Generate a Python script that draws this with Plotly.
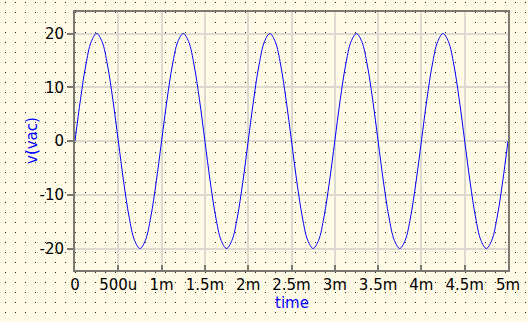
import base64
import plotly.graph_objects as go

# time in milliseconds, sampled every 62.5 us
time_ms = [0, 0.0625, 0.125, 0.1875, 0.25, 0.3125, 0.375, 0.4375,
           0.5, 0.5625, 0.625, 0.6875, 0.75, 0.8125, 0.875, 0.9375,
           1.0, 1.0625, 1.125, 1.1875, 1.25, 1.3125, 1.375, 1.4375,
           1.5, 1.5625, 1.625, 1.6875, 1.75, 1.8125, 1.875, 1.9375,
           2.0, 2.0625, 2.125, 2.1875, 2.25, 2.3125, 2.375, 2.4375,
           2.5, 2.5625, 2.625, 2.6875, 2.75, 2.8125, 2.875, 2.9375,
           3.0, 3.0625, 3.125, 3.1875, 3.25, 3.3125, 3.375, 3.4375,
           3.5, 3.5625, 3.625, 3.6875, 3.75, 3.8125, 3.875, 3.9375,
           4.0, 4.0625, 4.125, 4.1875, 4.25, 4.3125, 4.375, 4.4375,
           4.5, 4.5625, 4.625, 4.6875, 4.75, 4.8125, 4.875, 4.9375,
           5.0]
v_vac = [0, 7.65, 14.14, 18.48, 20, 18.48, 14.14, 7.65,
         0, -7.65, -14.14, -18.48, -20, -18.48, -14.14, -7.65,
         0, 7.65, 14.14, 18.48, 20, 18.48, 14.14, 7.65,
         0, -7.65, -14.14, -18.48, -20, -18.48, -14.14, -7.65,
         0, 7.65, 14.14, 18.48, 20, 18.48, 14.14, 7.65,
         0, -7.65, -14.14, -18.48, -20, -18.48, -14.14, -7.65,
         0, 7.65, 14.14, 18.48, 20, 18.48, 14.14, 7.65,
         0, -7.65, -14.14, -18.48, -20, -18.48, -14.14, -7.65,
         0, 7.65, 14.14, 18.48, 20, 18.48, 14.14, 7.65,
         0, -7.65, -14.14, -18.48, -20, -18.48, -14.14, -7.65,
         0]

x_tickvals = [0, 0.5, 1, 1.5, 2, 2.5, 3, 3.5, 4, 4.5, 5]
x_ticktext = ["0", "500u", "1m", "1.5m", "2m", "2.5m", "3m", "3.5m", "4m", "4.5m", "5m"]
y_tickvals = [-20, -10, 0, 10, 20]
y_ticktext = ["-20", "-10", "0", "10", "20"]

W, H = 528, 322
BG = "#fffae6"
FRAME = "#7a7a72"
GRID = "#dcdad0"
FONT = "DejaVu Sans"

svg = (
    f'<svg xmlns="http://www.w3.org/2000/svg" width="{W}" height="{H}" shape-rendering="crispEdges">'
    '<defs><pattern id="p" width="10" height="10" patternUnits="userSpaceOnUse">'
    '<rect x="5" y="2" width="1" height="1" fill="#222"/></pattern></defs>'
    f'<rect width="{W}" height="{H}" fill="url(#p)"/></svg>'
)
dots_uri = "data:image/svg+xml;base64," + base64.b64encode(svg.encode()).decode()

x0, x1 = 75, 508
y0, y1 = 12, 270

fig = go.Figure()
fig.add_trace(go.Scatter(
    x=time_ms, y=v_vac, mode="lines",
    line=dict(color="#0000ff", width=1, shape="spline", smoothing=1.0),
    showlegend=False, hoverinfo="skip",
))

fig.update_layout(
    width=W, height=H,
    margin=dict(l=0, r=0, t=0, b=0, autoexpand=False),
    paper_bgcolor=BG,
    plot_bgcolor="rgba(0,0,0,0)",
    font=dict(family=FONT, size=15, color="#000"),
    images=[dict(source=dots_uri, xref="paper", yref="paper", x=0, y=1,
                 sizex=1, sizey=1, sizing="stretch", xanchor="left",
                 yanchor="top", layer="below")],
    xaxis=dict(
        domain=[x0 / W, x1 / W], range=[0, 5], automargin=False,
        tickvals=x_tickvals, ticktext=x_ticktext,
        showgrid=True, gridcolor=GRID, gridwidth=2,
        zeroline=False,
        showline=True, mirror=True, linecolor=FRAME, linewidth=2,
        ticks="inside", ticklen=5, tickwidth=2, tickcolor=FRAME,
        tickfont=dict(family=FONT, size=15, color="#000"),
    ),
    yaxis=dict(
        domain=[(H - y1) / H, (H - y0) / H], range=[-24, 24], automargin=False,
        tickvals=y_tickvals, ticktext=y_ticktext,
        showgrid=True, gridcolor=GRID, gridwidth=2,
        zeroline=False,
        showline=True, mirror=True, linecolor=FRAME, linewidth=2,
        ticks="outside", ticklen=6, tickwidth=2, tickcolor=FRAME,
        tickfont=dict(family=FONT, size=15, color="#000"),
    ),
    annotations=[
        dict(text="time", xref="paper", yref="paper",
             x=(x0 + x1) / 2 / W, y=(H - 293) / H, showarrow=False,
             xanchor="center", yanchor="top", borderpad=0,
             font=dict(family=FONT, size=15, color="#0000ff")),
        dict(text="v(vac)", xref="paper", yref="paper",
             x=32 / W, y=(H - 141) / H, showarrow=False, textangle=-90,
             xanchor="center", yanchor="middle",
             font=dict(family=FONT, size=15, color="#0000ff")),
    ],
)

fig.write_html("out.html")
